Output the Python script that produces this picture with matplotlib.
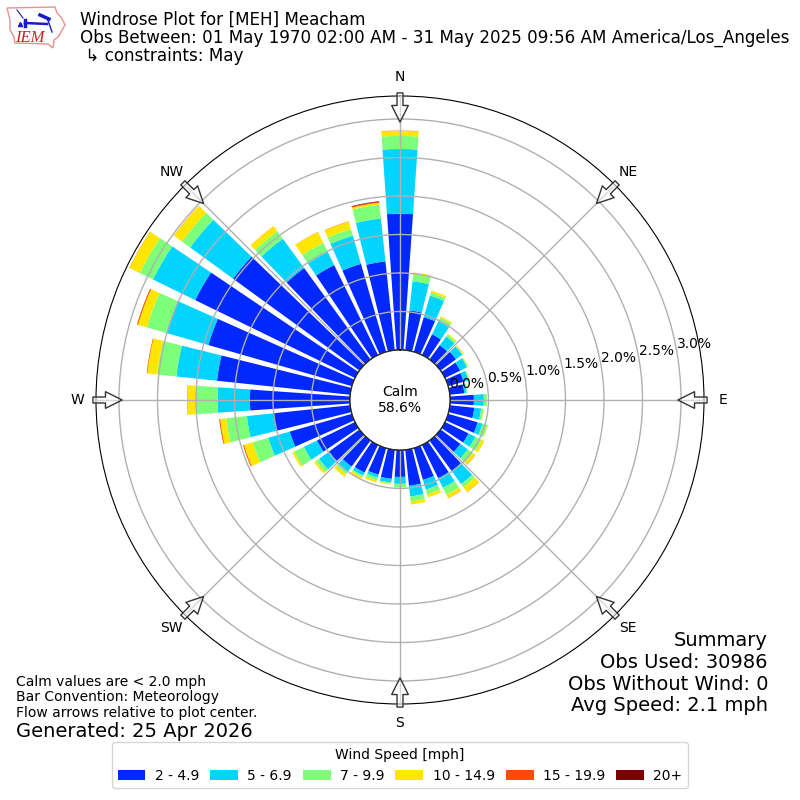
import numpy as np
import matplotlib
matplotlib.use("Agg")
import matplotlib.pyplot as plt
from matplotlib.patches import Patch, Polygon

# wind directions in degrees, frequency in percent per speed bin
directions = [0, 10, 20, 30, 40, 50, 60, 70, 80, 90, 100, 110,
              120, 130, 140, 150, 160, 170, 180, 190, 200, 210, 220, 230,
              240, 250, 260, 270, 280, 290, 300, 310, 320, 330, 340, 350]
speed_2_5 = [1.77, .52, .47, .30, .23, .25, .22, .21, .19, .31, .32, .40,
             .34, .32, .49, .48, .43, .47, .35, .38, .36, .40, .42, .49,
             .55, .84, 1.01, 1.30, 1.74, 1.94, 2.31, 2.03, 1.47, 1.30, 1.19, 1.16]
speed_5_7 = [.84, .38, .29, .19, .14, .10, .10, .065, .03, .13, .09, .065,
             .10, .12, .21, .14, .13, .14, .09, .05, .04, .045, .09, .16,
             .19, .29, .34, .42, .53, .57, .61, .69, .47, .19, .38, .56]
speed_7_10 = [.17, .09, .04, .05, .03, .013, .013, .013, .013, .04, .03, .065,
              .09, .08, .05, .10, .065, .065, .045, .013, .04, .02, .03, .05,
              .14, .21, .27, .29, .25, .26, .19, .13, .12, .13, .09, .18]
speed_10_15 = [.065, .026, .026, .02, .013, .013, .006, .003, .003, .003, .006, .008,
               .04, .04, .08, .05, .04, .04, .006, .013, .026, .026, .04, .026,
               .026, .12, .08, .10, .13, .12, .15, .13, .08, .16, .10, .026]
speed_15_20 = [.004, 0, 0, 0, 0, 0, 0, 0, 0, 0, 0, 0,
               0, .003, .003, .003, 0, 0, 0, 0, 0, 0, 0, 0,
               0, .012, .012, .004, .008, .014, .003, .002, .002, .002, .004, .012]
speed_20 = [0, 0, 0, 0, 0, 0, 0, 0, 0, 0, 0, 0,
            0, 0, 0, 0, 0, 0, 0, 0, 0, 0, 0, 0,
            0, 0, 0, 0, 0, 0, 0, 0, 0, 0, 0, .008]

speed_labels = ["2 - 4.9", "5 - 6.9", "7 - 9.9", "10 - 14.9", "15 - 19.9", "20+"]
speed_colors = ["#0028ff", "#00d4ff", "#7dff7a", "#ffe600", "#ff4a00", "#7f0000"]
ring_values = [0, 0.5, 1.0, 1.5, 2.0, 2.5, 3.0]
ring_labels = ["0.0%", "0.5%", "1.0%", "1.5%", "2.0%", "2.5%", "3.0%"]
compass_angles = [0, 45, 90, 135, 180, 225, 270, 315]
compass_labels = ["N", "NE", "E", "SE", "S", "SW", "W", "NW"]

fig = plt.figure(figsize=(8, 8), dpi=100)
ax = fig.add_axes([0.12, 0.12, 0.76, 0.76], polar=True)
ax.set_theta_zero_location("N")
ax.set_theta_direction(-1)

# stacked bars, 8 of 10 degrees wide
theta = np.radians(directions)
bottom = np.zeros(len(directions))
series = [speed_2_5, speed_5_7, speed_7_10, speed_10_15, speed_15_20, speed_20]
for vals, col in zip(series, speed_colors):
    ax.bar(theta, vals, width=np.radians(8), bottom=bottom, color=col, linewidth=0)
    bottom = bottom + np.array(vals)

# hole in the middle holds the calm value
ax.set_rorigin(-50 / 77)
ax.set_ylim(0, 254 / 77)
ax.set_axisbelow(False)
ax.set_rgrids(ring_values, ring_labels, angle=80, fontsize=10)
ax.set_thetagrids(compass_angles, compass_labels, fontsize=10)
ax.tick_params(axis="x", pad=3)
ax.grid(True, color="#b0b0b0", linewidth=1)
ax.plot(np.linspace(0, 2 * np.pi, 300), np.zeros(300), color="k", linewidth=1, zorder=4)
ax.text(0.5, 0.5, "Calm\n58.6%", transform=ax.transAxes, ha="center", va="center", fontsize=10)

# see-through arrows on the rim
for ang in compass_angles:
    a = np.radians(ang)
    tail = (0.5 + 0.505 * np.sin(a), 0.5 + 0.505 * np.cos(a))
    tip = (0.5 + 0.457 * np.sin(a), 0.5 + 0.457 * np.cos(a))
    ax.annotate("", xy=tip, xytext=tail, xycoords="axes fraction", textcoords="axes fraction",
                arrowprops=dict(facecolor=(1, 1, 1, 0.5), edgecolor="#333333", width=4.3, headwidth=12,
                                headlength=12, shrink=0, linewidth=1), annotation_clip=False, zorder=6)

# titles
fig.text(0.1, 0.986, "Windrose Plot for [MEH] Meacham\n"
         "Obs Between: 01 May 1970 02:00 AM - 31 May 2025 09:56 AM America/Los_Angeles\n"
         " ↳ constraints: May", fontsize=12.03, va="top", linespacing=1.0)
fig.text(0.02, 0.1, "Calm values are < 2.0 mph\nBar Convention: Meteorology\nFlow arrows relative to plot center.",
         fontsize=10, va="bottom", linespacing=1.15)
fig.text(0.02, 0.07875, "Generated: 25 Apr 2026", fontsize=14, va="baseline")
fig.text(0.96, 0.106, "Summary\nObs Used: 30986\nObs Without Wind: 0\nAvg Speed: 2.1 mph",
         fontsize=14, ha="right", va="bottom", linespacing=1.18)

handles = [Patch(facecolor=c, label=l) for c, l in zip(speed_colors, speed_labels)]
fig.legend(handles=handles, ncol=6, loc="lower center", bbox_to_anchor=(0.5, 0.006),
           title="Wind Speed [mph]", fontsize=10, title_fontsize=10,
           columnspacing=0.8, handletextpad=0.67)

# logo, hand drawn from shapes, coordinates are pixels of the corner
logo = fig.add_axes([0, 745 / 800, 75 / 800, 55 / 800])
logo.set_xlim(0, 75)
logo.set_ylim(55, 0)
logo.axis("off")
iowa_x = [7, 55, 57, 61, 65, 60, 58, 54, 53, 48, 15, 14, 10, 10, 7]
iowa_y = [8, 7, 13, 17, 25, 34, 37, 40, 48, 44, 43, 37, 30, 20, 8]
logo.add_patch(Polygon(np.column_stack([iowa_x, iowa_y]), closed=True, fill=False, edgecolor="#e89090", linewidth=1))
logo.plot([25, 47], [23, 24], color="#1a1ac8", linewidth=1.8)
logo.plot([25, 25], [20, 26], color="#1a1ac8", linewidth=2.5)
logo.plot([40, 49], [15, 19], color="#1a1ac8", linewidth=2.5)
logo.plot([17, 23], [10, 18], color="#1a1ac8", linewidth=0.8)
logo.plot([47, 50, 52], [18, 26, 32], color="#1a1ac8", linewidth=1)
logo.plot([20], [24], marker="^", color="#1a1ac8", markersize=3)
logo.text(30, 38, "IEM", color="#d02020", fontsize=12, family="Liberation Serif", style="italic", ha="center", va="center")

fig.savefig("out.png", dpi=100)
